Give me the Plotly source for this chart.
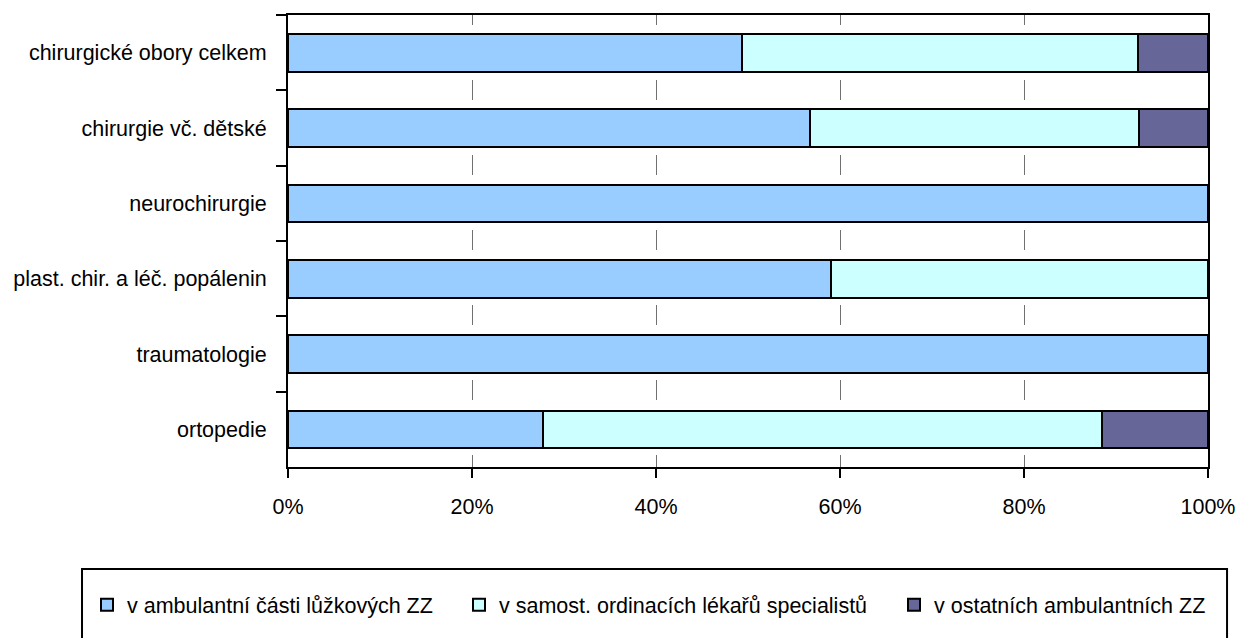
import plotly.graph_objects as go

categories = ["chirurgické obory celkem", "chirurgie vč. dětské", "neurochirurgie",
              "plast. chir. a léč. popálenin", "traumatologie", "ortopedie"]
series_names = ["v ambulantní části lůžkových ZZ",
                "v samost. ordinacích lékařů specialistů",
                "v ostatních ambulantních ZZ"]
ambulantni = [49.3, 56.7, 100.0, 59.0, 100.0, 27.7]
samost = [43.1, 35.8, 0.0, 41.0, 0.0, 60.8]
ostatni = [7.6, 7.5, 0.0, 0.0, 0.0, 11.5]
x_tick_vals = [0, 20, 40, 60, 80, 100]
x_tick_labels = ["0%", "20%", "40%", "60%", "80%", "100%"]

colors = ["#99CCFF", "#CCFFFF", "#666699"]
series = [ambulantni, samost, ostatni]
legend_ids = ["legend", "legend2", "legend3"]
legend_x = [-0.2185, 0.1859, 0.6587]

FONT = "Liberation Sans, Arial, sans-serif"
FS = 21.5

fig = go.Figure()
for name, vals, col, lg in zip(series_names, series, colors, legend_ids):
    fig.add_trace(go.Bar(
        y=categories, x=vals, name=name, orientation="h",
        marker=dict(color=col, line=dict(color="black", width=2)),
        legend=lg, showlegend=True,
    ))

legend_common = dict(orientation="h", yanchor="middle", y=-0.305, xanchor="left",
                     bgcolor="rgba(0,0,0,0)", borderwidth=0,
                     font=dict(family=FONT, size=FS, color="black"),
                     itemwidth=30, visible=True)
fig.update_layout(
    barmode="stack",
    bargap=0.5,
    showlegend=True,
    width=1238, height=638,
    margin=dict(l=288, r=30, t=15, b=171, autoexpand=False),
    plot_bgcolor="white", paper_bgcolor="white",
    font=dict(family=FONT, size=FS, color="black"),
    legend=dict(legend_common, x=legend_x[0]),
    legend2=dict(legend_common, x=legend_x[1]),
    legend3=dict(legend_common, x=legend_x[2]),
    xaxis=dict(range=[0, 100], tickvals=x_tick_vals, ticktext=x_tick_labels,
               showline=True, linecolor="black", linewidth=2, mirror=True,
               ticks="outside", ticklen=9, tickwidth=2, tickcolor="black",
               showgrid=True, gridcolor="#707070", gridwidth=1,
               griddash="10px,55px,10px,0px", zeroline=False,
               ticklabelstandoff=10, fixedrange=True),
    yaxis=dict(autorange="reversed", showline=True, linecolor="black", linewidth=2,
               mirror=True, ticks="outside", tickson="boundaries", ticklen=10,
               tickwidth=2, tickcolor="black", showgrid=False,
               ticklabelstandoff=15, fixedrange=True),
    shapes=[dict(type="rect", xref="paper", yref="paper",
                 x0=-0.2239, x1=1.0207, y0=-0.40, y1=-0.2257,
                 line=dict(color="black", width=2), fillcolor="rgba(0,0,0,0)")],
)

fig.write_html("out.html", config={"displayModeBar": False},
               post_script="document.body.style.margin='0';")
